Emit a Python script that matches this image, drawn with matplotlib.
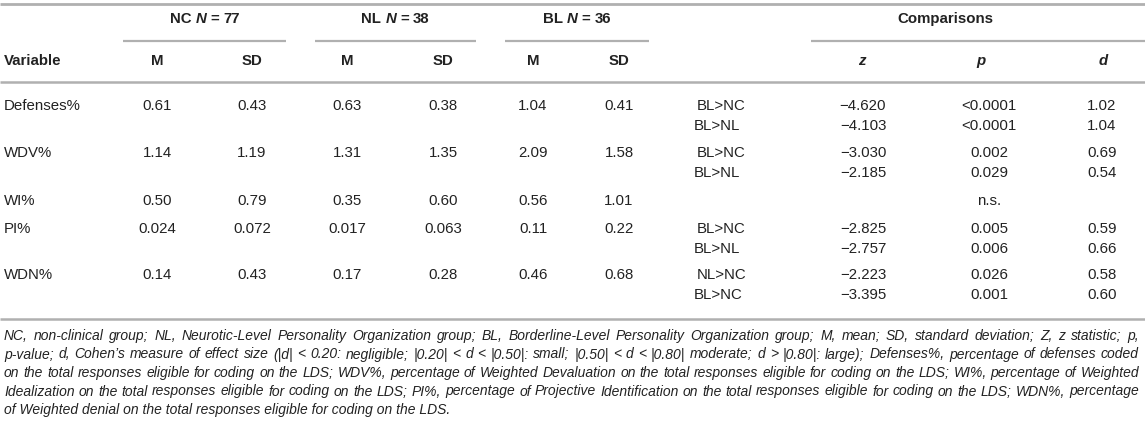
import matplotlib
matplotlib.use("Agg")
import matplotlib.pyplot as plt

plt.rcParams['font.family'] = ['Liberation Sans', 'DejaVu Sans']

# ---------------- data ----------------
variables = ["Defenses%", "WDV%", "WI%", "PI%", "WDN%"]
nc_m = ["0.61", "1.14", "0.50", "0.024", "0.14"]
nc_sd = ["0.43", "1.19", "0.79", "0.072", "0.43"]
nl_m = ["0.63", "1.31", "0.35", "0.017", "0.17"]
nl_sd = ["0.38", "1.35", "0.60", "0.063", "0.28"]
bl_m = ["1.04", "2.09", "0.56", "0.11", "0.46"]
bl_sd = ["0.41", "1.58", "1.01", "0.22", "0.68"]
comp_labels = [["BL>NC", "BL>NL"], ["BL>NC", "BL>NL"], [""], ["BL>NC", "BL>NL"], ["NL>NC", "BL>NC"]]
comp_z = [["\u22124.620", "\u22124.103"], ["\u22123.030", "\u22122.185"], [""], ["\u22122.825", "\u22122.757"], ["\u22122.223", "\u22123.395"]]
comp_p = [["<0.0001", "<0.0001"], ["0.002", "0.029"], ["n.s."], ["0.005", "0.006"], ["0.026", "0.001"]]
comp_d = [["1.02", "1.04"], ["0.69", "0.54"], [""], ["0.59", "0.66"], ["0.58", "0.60"]]
group_names = ["NC", "NL", "BL"]
group_n = ["77", "38", "36"]
sub_headers = ["M", "SD"]
stat_headers = ["z", "p", "d"]
footnote = [
    "NC, non-clinical group; NL, Neurotic-Level Personality Organization group; BL, Borderline-Level Personality Organization group; M, mean; SD, standard deviation; Z, z statistic; p,",
    "p-value; d, Cohen\u2019s measure of effect size (|d| < 0.20: negligible; |0.20| < d < |0.50|: small; |0.50| < d < |0.80| moderate; d > |0.80|: large); Defenses%, percentage of defenses coded",
    "on the total responses eligible for coding on the LDS; WDV%, percentage of Weighted Devaluation on the total responses eligible for coding on the LDS; WI%, percentage of Weighted",
    "Idealization on the total responses eligible for coding on the LDS; PI%, percentage of Projective Identification on the total responses eligible for coding on the LDS; WDN%, percentage",
    "of Weighted denial on the total responses eligible for coding on the LDS.",
]

# ---------------- layout ----------------
W, H = 1145, 426
fig = plt.figure(figsize=(W / 100, H / 100), dpi=100)
ax = fig.add_axes([0, 0, 1, 1])
ax.set_xlim(0, W)
ax.set_ylim(H, 0)
ax.axis('off')

TXT = '#222222'
RULE = '#b0b0b0'
FS = 10.8
FS_FOOT = 10.0

col_x = [157, 252, 347, 443, 533, 619]
group_spans = [(123, 286), (315, 476), (505, 649)]
comp_span = (811, 1145)
x_lab = 694
x_z, x_p, x_d = 863, 989, 1102
hz_x = [862, 981, 1103]

y_top, y_h1, y_ul, y_h2, y_rule = 4, 19, 41, 61, 82
row_y = [106, 153, 201, 229, 275]
line_gap = 20
y_bottom = 319
foot_y0, foot_gap = 336, 18.5
foot_x0, foot_x1 = 4, 1139

renderer = fig.canvas.get_renderer()


def hline(y, x0, x1, lw=1.6):
    ax.plot([x0, x1], [y, y], color=RULE, lw=lw, solid_capstyle='butt')


def rich(xc, y, segs, gap=4.0):
    texts, widths = [], []
    for s, kw in segs:
        t = ax.text(0, y, s, ha='left', va='center', fontsize=FS, color=TXT, **kw)
        widths.append(t.get_window_extent(renderer).width)
        texts.append(t)
    total = sum(widths) + gap * (len(segs) - 1)
    x = xc - total / 2
    for t, w in zip(texts, widths):
        t.set_x(x)
        x += w + gap


def justified(y, line, x0, x1, justify=True):
    words = line.split(" ")
    kw = dict(ha='left', va='center', fontsize=FS_FOOT, color=TXT, fontstyle='italic')
    if not justify:
        ax.text(x0, y, line, **kw)
        return
    texts, widths = [], []
    for w in words:
        t = ax.text(0, y, w, **kw)
        widths.append(t.get_window_extent(renderer).width)
        texts.append(t)
    gap = (x1 - x0 - sum(widths)) / (len(words) - 1)
    x = x0
    for t, w in zip(texts, widths):
        t.set_x(x)
        x += w + gap


# rules
hline(y_top, 0, W, 2)
for (a, b) in group_spans:
    hline(y_ul, a, b)
hline(y_ul, comp_span[0], comp_span[1])
hline(y_rule, 0, W, 1.8)
hline(y_bottom, 0, W, 1.8)

# header row 1
bold = dict(fontweight='bold')
bi = dict(fontweight='bold', fontstyle='italic')
for (a, b), g, n in zip(group_spans, group_names, group_n):
    rich((a + b) / 2, y_h1, [(g, bold), ("N", bi), ("=", bold), (n, bold)])
ax.text(945, y_h1, "Comparisons", ha='center', va='center', fontsize=FS, color=TXT, **bold)

# header row 2
ax.text(4, y_h2, "Variable", ha='left', va='center', fontsize=FS, color=TXT, **bold)
for i, x in enumerate(col_x):
    ax.text(x, y_h2, sub_headers[i % 2], ha='center', va='center', fontsize=FS, color=TXT, **bold)
for x, s in zip(hz_x, stat_headers):
    ax.text(x, y_h2, s, ha='center', va='center', fontsize=FS, color=TXT, **bi)

# body
cols = [nc_m, nc_sd, nl_m, nl_sd, bl_m, bl_sd]
for r, var in enumerate(variables):
    y = row_y[r]
    ax.text(4, y, var, ha='left', va='center', fontsize=FS, color=TXT)
    for x, col in zip(col_x, cols):
        ax.text(x, y, col[r], ha='center', va='center', fontsize=FS, color=TXT)
    for k in range(len(comp_p[r])):
        yy = y + k * line_gap
        lab = comp_labels[r][k]
        if lab:
            ax.text(x_lab + (3 if k == 0 else 0), yy, lab, ha='left', va='center', fontsize=FS, color=TXT)
        ax.text(x_z, yy, comp_z[r][k], ha='center', va='center', fontsize=FS, color=TXT)
        ax.text(x_p, yy, comp_p[r][k], ha='center', va='center', fontsize=FS, color=TXT)
        ax.text(x_d, yy, comp_d[r][k], ha='center', va='center', fontsize=FS, color=TXT)

# footnote (justified like the source)
for i, line in enumerate(footnote):
    justified(foot_y0 + i * foot_gap, line, foot_x0, foot_x1, justify=(i < len(footnote) - 1))

fig.savefig("out.png", dpi=100)
